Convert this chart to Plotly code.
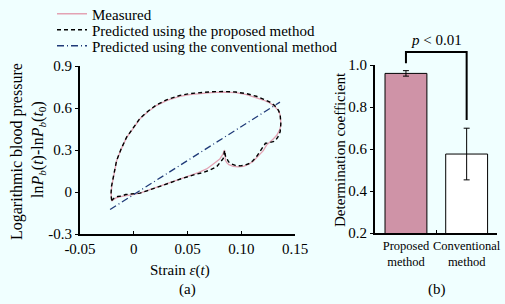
import plotly.graph_objects as go

# ---------------- data ----------------
measured_strain = [-0.0205, -0.0210, -0.0205, -0.0185, -0.0159, -0.0115, -0.0066, -0.0005, 0.0058, 0.0135,
                   0.0213, 0.0310, 0.0430, 0.0520, 0.0616, 0.0720, 0.0833, 0.0950, 0.1050, 0.1130,
                   0.1205, 0.1260, 0.1300, 0.1345, 0.1362, 0.1367, 0.1367, 0.1355, 0.1330, 0.1300,
                   0.1267, 0.1235, 0.1205, 0.1160, 0.1110, 0.1060, 0.1020, 0.0970, 0.0926, 0.0885,
                   0.0865, 0.0852, 0.0848, 0.0849, 0.0845, 0.0825, 0.0800, 0.0740, 0.0678, 0.0600,
                   0.0523, 0.0450, 0.0368, 0.0290, 0.0213, 0.0130, 0.0058, -0.0010, -0.0060, -0.0097,
                   -0.0130, -0.0165, -0.0205]
measured_value = [-0.065, -0.020, 0.040, 0.130, 0.223, 0.310, 0.390, 0.455, 0.523, 0.575,
                  0.619, 0.655, 0.683, 0.695, 0.703, 0.710, 0.713, 0.710, 0.695, 0.678,
                  0.657, 0.638, 0.618, 0.583, 0.550, 0.510, 0.470, 0.440, 0.405, 0.380,
                  0.357, 0.335, 0.295, 0.255, 0.218, 0.195, 0.183, 0.180, 0.184, 0.195,
                  0.210, 0.228, 0.255, 0.282, 0.300, 0.265, 0.235, 0.200, 0.165, 0.138,
                  0.118, 0.098, 0.076, 0.055, 0.033, 0.012, -0.008, -0.018, -0.022, -0.030,
                  -0.035, -0.042, -0.065]

proposed_strain = [-0.0205, -0.0212, -0.0207, -0.0187, -0.0160, -0.0115, -0.0066, -0.0005, 0.0058, 0.0135,
                   0.0213, 0.0310, 0.0430, 0.0520, 0.0616, 0.0720, 0.0833, 0.0950, 0.1050, 0.1140,
                   0.1210, 0.1267, 0.1310, 0.1345, 0.1362, 0.1368, 0.1368, 0.1362, 0.1340, 0.1314,
                   0.1280, 0.1250, 0.1225, 0.1205, 0.1175, 0.1144, 0.1110, 0.1080, 0.1035, 0.0988,
                   0.0945, 0.0910, 0.0882, 0.0865, 0.0852, 0.0849, 0.0845, 0.0833, 0.0800, 0.0771,
                   0.0710, 0.0647, 0.0580, 0.0523, 0.0450, 0.0368, 0.0290, 0.0213, 0.0130, 0.0058,
                   0.0000, -0.0035, -0.0075, -0.0112, -0.0150, -0.0185, -0.0205]
proposed_value = [-0.060, -0.020, 0.040, 0.130, 0.223, 0.312, 0.392, 0.458, 0.526, 0.579,
                  0.623, 0.660, 0.690, 0.703, 0.710, 0.716, 0.718, 0.714, 0.702, 0.684,
                  0.662, 0.642, 0.618, 0.585, 0.555, 0.520, 0.487, 0.430, 0.392, 0.363,
                  0.355, 0.350, 0.348, 0.325, 0.290, 0.255, 0.225, 0.205, 0.192, 0.187,
                  0.190, 0.200, 0.215, 0.235, 0.260, 0.282, 0.298, 0.240, 0.205, 0.180,
                  0.158, 0.139, 0.127, 0.115, 0.097, 0.074, 0.052, 0.030, 0.010, -0.008,
                  -0.012, -0.012, -0.018, -0.029, -0.032, -0.045, -0.060]

conventional_strain = [-0.0220, 0.1360]
conventional_value = [-0.125, 0.642]

methods = ["Proposed<br>method", "Conventional<br>method"]
method_pos = [0, 1]
r2_mean = [0.960, 0.576]
r2_err = [0.013, 0.123]

FONT = "Liberation Serif"
BG = "#F0FFFF"
W, H = 505, 304


def px(v):
    return v / W


def py(v):
    return 1 - v / H


# bar-chart geometry (paper coordinates)
X2_DOM = [px(375), px(497)]
X2_RANGE = [-0.51, 1.50]
Y2_DOM = [py(233), py(65)]
Y2_RANGE = [0.2, 1.0]


def x2p(c):
    return X2_DOM[0] + (c - X2_RANGE[0]) / (X2_RANGE[1] - X2_RANGE[0]) * (X2_DOM[1] - X2_DOM[0])


def y2p(v):
    return Y2_DOM[0] + (v - Y2_RANGE[0]) / (Y2_RANGE[1] - Y2_RANGE[0]) * (Y2_DOM[1] - Y2_DOM[0])


fig = go.Figure()

fig.add_trace(go.Scatter(x=measured_strain, y=measured_value, mode="lines",
                         line=dict(color="#E3A3B4", width=1.3), name="Measured",
                         xaxis="x", yaxis="y", legend="legend"))
fig.add_trace(go.Scatter(x=proposed_strain, y=proposed_value, mode="lines",
                         line=dict(color="black", width=1.4, dash="4px,3px"),
                         name="Predicted using the proposed method", xaxis="x", yaxis="y",
                         legend="legend2"))
fig.add_trace(go.Scatter(x=conventional_strain, y=conventional_value, mode="lines",
                         line=dict(color="#1F3A78", width=1.3, dash="7px,3px,1px,3px"),
                         name="Predicted using the conventional method", xaxis="x", yaxis="y",
                         legend="legend3"))

fig.add_trace(go.Bar(x=method_pos, y=r2_mean, width=0.69, base=0,
                     marker=dict(color=["#CF93A7", "white"], line=dict(color="black", width=1)),
                     error_y=dict(type="data", array=r2_err, color="black", thickness=1, width=3),
                     showlegend=False, xaxis="x2", yaxis="y2"))

TICKFONT = dict(family=FONT, size=15, color="black")
axis_common = dict(showgrid=False, zeroline=False, showline=True, linecolor="black", linewidth=2,
                   tickcolor="black", automargin=False)

legend_common = dict(x=px(52), xanchor="left", yanchor="middle", bgcolor="rgba(0,0,0,0)",
                     font=dict(family=FONT, size=15, color="black"), itemwidth=30)

fig.update_layout(
    width=W, height=H, margin=dict(l=0, r=0, t=0, b=0, autoexpand=False),
    paper_bgcolor=BG, plot_bgcolor=BG,
    font=dict(family=FONT, size=15, color="black"),
    xaxis=dict(domain=[px(80), px(295)], range=[-0.05, 0.15], tickvals=[-0.05, 0, 0.05, 0.10, 0.15],
               ticktext=["-0.05", "0", "0.05", "0.10", "0.15"], ticks="inside", ticklen=3,
               anchor="y", tickfont=TICKFONT, **axis_common),
    yaxis=dict(domain=[py(234), py(66)], range=[-0.3, 0.9], tickvals=[-0.3, 0, 0.3, 0.6, 0.9],
               ticktext=["-0.3", "0", "0.3", "0.6", "0.9"], ticks="outside", ticklen=3,
               anchor="x", tickfont=TICKFONT, **axis_common),
    xaxis2=dict(domain=X2_DOM, range=X2_RANGE, tickvals=method_pos, ticktext=methods,
                ticks="", anchor="y2",
                minor=dict(tickvals=[0.5], ticks="inside", ticklen=3, tickcolor="black"),
                tickfont=dict(family=FONT, size=12.5, color="black"), **axis_common),
    yaxis2=dict(domain=Y2_DOM, range=Y2_RANGE, tickvals=[0.2, 0.4, 0.6, 0.8, 1.0],
                ticktext=["0.2", "0.4", "0.6", "0.8", "1.0"], ticks="outside", ticklen=3,
                anchor="x2", tickfont=TICKFONT, **axis_common),
    showlegend=True,
    legend=dict(y=py(14), **legend_common),
    legend2=dict(y=py(30), **legend_common),
    legend3=dict(y=py(46), **legend_common),
)

# significance bracket above the bars
fig.add_shape(type="path", xref="paper", yref="paper",
              path=(f"M {x2p(0)} {y2p(1.008)} L {x2p(0)} {y2p(1.062)} "
                    f"L {x2p(1)} {y2p(1.062)} L {x2p(1)} {y2p(0.738)}"),
              line=dict(color="black", width=2))


def label(text, x, y, size=15, angle=0):
    return dict(text=text, x=px(x), y=py(y), xref="paper", yref="paper", xanchor="center",
                yanchor="middle", textangle=angle, showarrow=False,
                font=dict(family=FONT, size=size, color="black"))


ann = [
    label("<i>p</i> < 0.01", 436, 40),
    label("Logarithmic blood pressure", 17, 152, 16, -90),
    label("ln<i>P</i><sub><i>b</i></sub>(<i>t</i>)-ln<i>P</i><sub><i>b</i></sub>(<i>t</i><sub>0</sub>)",
          38, 150, 16, -90),
    label("Strain <i>ε</i>(<i>t</i>)", 180, 270),
    label("(a)", 187, 289),
    label("(b)", 437, 289),
    label("Determination coefficient", 340, 150, 15, -90),
]
fig.update_layout(annotations=ann)

fig.write_html("out.html",
               config={"displayModeBar": False},
               post_script="document.body.style.margin='0px';"
                           "document.body.style.background='#F0FFFF';")
